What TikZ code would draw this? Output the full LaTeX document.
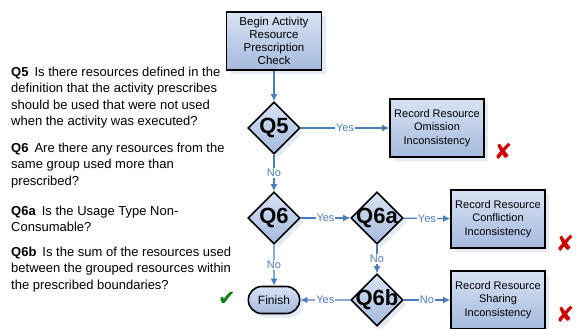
\documentclass[tikz,border=0pt]{standalone}
\usepackage{fontspec}
\setmainfont{Liberation Sans}
\newfontfamily\symfont{DejaVu Sans}
\usepackage{tikz}
\usetikzlibrary{arrows.meta,shapes.geometric,shapes.misc,shadows}
\definecolor{flowblue}{RGB}{74,126,187}
\definecolor{boxtop}{RGB}{216,226,243}
\definecolor{boxbot}{RGB}{165,186,222}
\newcommand{\qtag}[1]{\makebox[0pt]{#1}}

\begin{document}
\begin{tikzpicture}[x=1pt, y=-1pt, every node/.style={font=\fontsize{11}{13}\selectfont}, box/.style={draw, line width=1.6pt, align=center, top color=boxtop, bottom color=boxbot, drop shadow={fill=flowblue!30, shadow xshift=4pt, shadow yshift=-4pt}}, rec/.style={box, minimum width=94pt, minimum height=58pt, inner sep=1pt, font=\fontsize{11}{13.5}\selectfont}, dec/.style={box, diamond, aspect=1, minimum width=52pt, minimum height=52pt, inner sep=0pt, font=\fontsize{22}{22}\selectfont\bfseries}, term/.style={box, rounded rectangle, minimum width=58pt, minimum height=27pt, font=\fontsize{12}{13}\selectfont}, qtext/.style={anchor=north west, align=left, inner sep=0pt, font=\fontsize{13}{16.3}\selectfont}, lbl/.style={fill=white, inner sep=1pt}, arr/.style={-{Latex[length=7pt,width=7pt]}, flowblue, line width=1.3pt}, bad/.style={text=red!80!black, font=\symfont\fontsize{22}{22}\selectfont}, good/.style={text=green!50!black, font=\symfont\fontsize{21}{21}\selectfont}]
\useasboundingbox (0,0) rectangle (576,329);
\node[qtext] (t5) at (11,67) {\textbf{Q5}\hspace{6pt}Is there resources defined in the\\definition that the activity prescribes\\should be used that were not used\\when the activity was executed?};
\node[qtext] (t6) at (11,143) {\textbf{Q6}\hspace{6pt}Are there any resources from the\\same group used more than\\prescribed?};
\node[qtext] (t6a) at (11,206) {\textbf{Q6a}\hspace{6pt}Is the Usage Type Non-\\Consumable?};
\node[qtext] (t6b) at (11,247) {\textbf{Q6b}\hspace{6pt}Is the sum of the resources used\\between the grouped resources within\\the prescribed boundaries?};
\node[rec, minimum width=95pt, font=\fontsize{11.5}{13}\selectfont] (begin) at (274,41) {Begin Activity\\Resource\\Prescription\\Check};
\node[dec] (q5) at (274,128) {\qtag{Q5}};
\node[rec] (omit) at (437,128) {Record Resource\\Omission\\Inconsistency};
\node[dec] (q6) at (274,218) {\qtag{Q6}};
\node[dec] (q6a) at (377,218) {\qtag{Q6a}};
\node[rec] (confl) at (498,219) {Record Resource\\Confliction\\Inconsistency};
\node[dec] (q6b) at (377,300) {\qtag{Q6b}};
\node[term] (finish) at (274,300) {Finish};
\node[rec] (share) at (498,300) {Record Resource\\Sharing\\Inconsistency};
\node[bad] (x1) at (503,151) {✘};
\node[bad] (x2) at (565,243) {✘};
\node[bad] (x3) at (565,314) {✘};
\node[good] (ok) at (227,299) {✔};
\draw[arr] (begin) -- (q5); \draw[arr] (q5) -- node[lbl] {Yes} (omit); \draw[arr] (q5) -- node[lbl] {No} (q6);
\draw[arr] (q6) -- node[lbl] {Yes} (q6a); \draw[arr] (q6a) -- node[lbl] {Yes} (confl); \draw[arr] (q6) -- node[lbl] {No} (finish);
\draw[arr] (q6a) -- node[lbl] {No} (q6b); \draw[arr] (q6b) -- node[lbl] {Yes} (finish); \draw[arr] (q6b) -- node[lbl] {No} (share);
\end{tikzpicture}
\end{document}
